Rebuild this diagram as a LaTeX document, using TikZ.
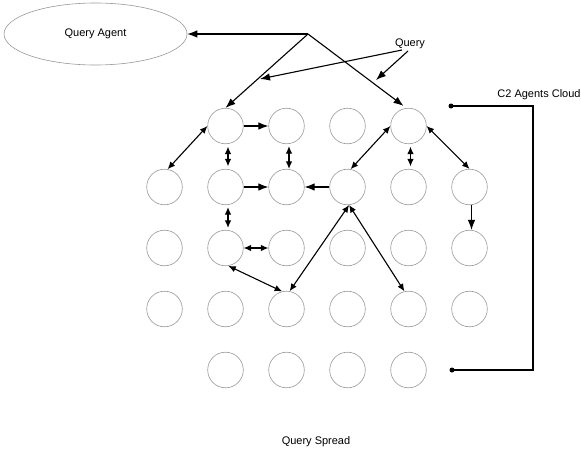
\documentclass[tikz,border=0pt]{standalone}
\usepackage{fontspec}
\setmainfont{Liberation Sans}
\usetikzlibrary{arrows.meta,shapes.geometric}

\begin{document}
\begin{tikzpicture}[
    x=1pt, y=-1pt,
    every node/.style={font=\fontsize{11}{13}\selectfont},
    agent/.style={circle, draw=black!40, line width=0.6pt, minimum size=35.6pt, inner sep=0pt},
    link/.style={line width=1.1pt, -{Latex[length=10pt,width=7.5pt]}},
    dlink/.style={line width=1.1pt, {Latex[length=7.5pt,width=6.5pt]}-{Latex[length=7.5pt,width=6.5pt]}},
    dot/.style={circle, fill=black, minimum size=5pt, inner sep=0pt}
]
\useasboundingbox (0,0) rectangle (581,452);

% query agent and the query coming in
\node[ellipse, draw=black!40, line width=0.6pt, minimum width=183pt, minimum height=62pt, inner sep=0pt] (qa) at (95.5,34) {Query Agent};
\node (query) at (410,44) {Query};
\coordinate (apex) at (308,34);
\coordinate (qa1) at (402,50);
\coordinate (qa2) at (408,51);
\coordinate (qt1) at (260,79);
\coordinate (qt2) at (376,80);

% grid of agents: rows 2-4 full, rows 1 and 5 inner columns only
\foreach \r in {2,3,4}
    \foreach \c in {1,...,6}
        \node[agent] (c\r\c) at ({164.5+61*(\c-1)},{126+61*(\r-1)}) {};
\foreach \r in {1,5}
    \foreach \c in {2,...,5}
        \node[agent] (c\r\c) at ({164.5+61*(\c-1)},{126+61*(\r-1)}) {};

% cloud bracket
\node[dot] (top) at (451,106) {};
\node[dot] (bot) at (452,370) {};
\draw[line width=1.1pt] (top.center) -- ++(82,0) |- (bot.center);
\node (cloud) at (539,95) {C2 Agents Cloud};

\node (spread) at (316,442) {Query Spread};

% query paths
\draw[link] (apex) -- (qa.east);
\draw[link] (apex) -- (c12.north);
\draw[link] (apex) -- ([xshift=-5pt,yshift=2pt]c15.north);
\draw[link] (qa1) -- (qt1);
\draw[link] (qa2) -- (qt2);

% spread between agents
\draw[dlink] (c12.west) -- (c21.80);
\draw[link] (c12.east) -- (c13.west);
\draw[dlink, shorten <=2.5pt, shorten >=2.5pt] ([xshift=2.5pt]c12.south) -- ([xshift=2.5pt]c22.north);
\draw[dlink, shorten <=2pt] ([xshift=2.5pt]c13.south) -- ([xshift=2.5pt]c23.north);
\draw[link] (c22.east) -- (c23.west);
\draw[link] (c24.west) -- (c23.east);
\draw[dlink, shorten <=2pt, shorten >=2pt] ([xshift=2.5pt]c22.south) -- ([xshift=2.5pt]c32.north);
\draw[dlink] (c32.east) -- (c33.west);
\draw[dlink] (c32.-81) -- (c43.104);
\draw[dlink] (c24.-85) -- (c43.80);
\draw[dlink] (c24.-85) -- (c45.103);
\draw[dlink] (c15.west) -- (c24.80);
\draw[dlink, shorten <=2.5pt, shorten >=2.5pt] ([xshift=2pt]c15.south) -- ([xshift=2pt]c25.north);
\draw[dlink] (c15.east) -- (c26.north);
\draw[link] ([xshift=2pt]c26.south) -- ([xshift=2pt]c36.north);
\end{tikzpicture}
\end{document}
